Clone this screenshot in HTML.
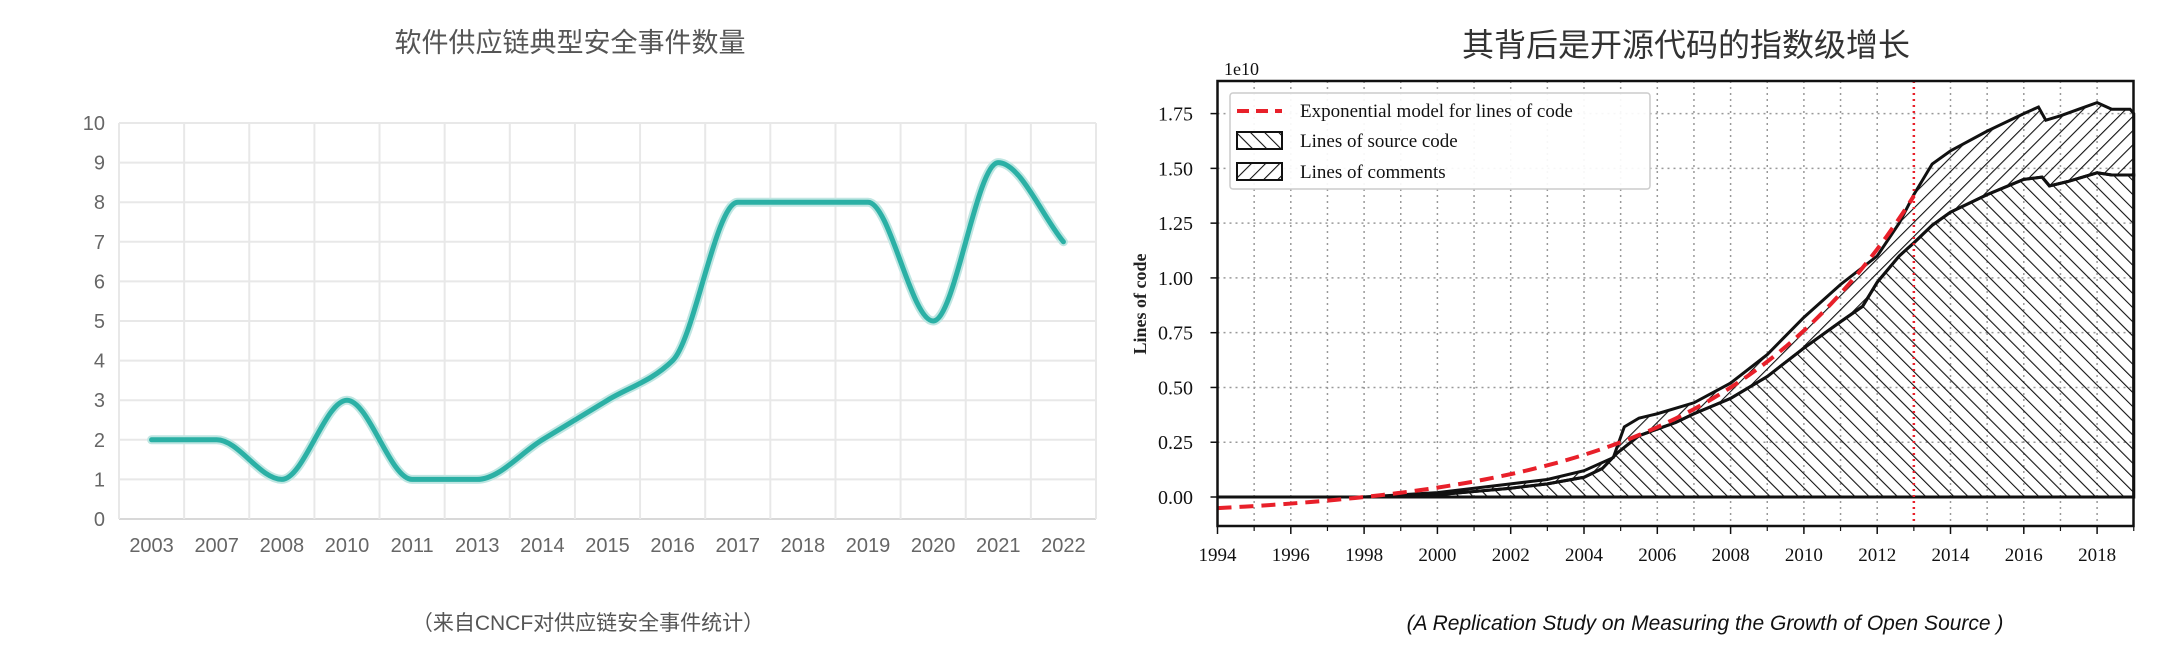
<!DOCTYPE html>
<html><head><meta charset="utf-8">
<style>
html,body{margin:0;padding:0;background:#fff;}
svg{display:block;}
</style></head>
<body>
<svg id="s" width="2184" height="672" xmlns="http://www.w3.org/2000/svg">
<defs>
<pattern id="hb" width="10" height="10" patternUnits="userSpaceOnUse" patternTransform="rotate(-45)">
<line x1="0" y1="0" x2="0" y2="10" stroke="#111" stroke-width="2.2"/></pattern>
<pattern id="hf" width="10" height="10" patternUnits="userSpaceOnUse" patternTransform="rotate(45)">
<line x1="0" y1="0" x2="0" y2="10" stroke="#111" stroke-width="2.2"/></pattern>
</defs>
<text x="570" y="52" text-anchor="middle" font-family="Liberation Sans, Noto Sans CJK SC, sans-serif" font-size="27" fill="#555">软件供应链典型安全事件数量</text>
<text x="588" y="630" text-anchor="middle" font-family="Liberation Sans, Noto Sans CJK SC, sans-serif" font-size="21" fill="#555">（来自CNCF对供应链安全事件统计）</text>
<text x="1686" y="56" text-anchor="middle" font-family="Liberation Sans, Noto Sans CJK SC, sans-serif" font-size="32" fill="#333">其背后是开源代码的指数级增长</text>
<text x="1705" y="630" text-anchor="middle" font-family="Liberation Sans, sans-serif" font-style="italic" font-size="21" fill="#111">(A Replication Study on Measuring the Growth of Open Source )</text>
<g id="L"></g><g id="R"></g>
</svg>
<script>
var NS="http://www.w3.org/2000/svg";
function el(p,t,a,txt){var e=document.createElementNS(NS,t);for(var k in a)e.setAttribute(k,a[k]);if(txt!=null)e.textContent=txt;p.appendChild(e);return e;}
// Left chart
var L=document.getElementById('L');
var x0=119,x1=1096,yT=123,yB=519,n=15,bw=(x1-x0)/n;
function ly(v){return yB-(yB-yT)*v/10;}
for(var i=0;i<=10;i++){var y=ly(i);el(L,'line',{x1:x0,x2:x1,y1:y,y2:y,stroke:i==0?'#d8d8d8':'#e8e8e8','stroke-width':2});
el(L,'text',{x:105,y:y+7,'text-anchor':'end','font-family':'Liberation Sans, sans-serif','font-size':20,fill:'#666'},String(i));}
for(var i=0;i<=n;i++){var x=x0+i*bw;el(L,'line',{x1:x,x2:x,y1:yT,y2:yB,stroke:'#e8e8e8','stroke-width':2});}
var yrs=[2003,2007,2008,2010,2011,2013,2014,2015,2016,2017,2018,2019,2020,2021,2022];
var vals=[2,2,1,3,1,1,2,3,4,8,8,8,5,9,7];
var pts=[];
for(var i=0;i<n;i++){var x=x0+bw*(i+.5);pts.push([x,ly(vals[i])]);
el(L,'text',{x:x,y:552,'text-anchor':'middle','font-family':'Liberation Sans, sans-serif','font-size':20,fill:'#666'},String(yrs[i]));}
// monotone cubic
var m=[];for(var i=0;i<n;i++){
 if(i==0||i==n-1){m.push(i==0?(pts[1][1]-pts[0][1])/bw:(pts[n-1][1]-pts[n-2][1])/bw);continue;}
 var d0=(pts[i][1]-pts[i-1][1])/bw,d1=(pts[i+1][1]-pts[i][1])/bw;
 if(d0*d1<=0)m.push(0);else m.push(2/(1/d0+1/d1));}
var d='M'+pts[0][0]+','+pts[0][1];
for(var i=0;i<n-1;i++){var h=bw/3;
d+=' C'+(pts[i][0]+h)+','+(pts[i][1]+m[i]*h)+' '+(pts[i+1][0]-h)+','+(pts[i+1][1]-m[i+1]*h)+' '+pts[i+1][0]+','+pts[i+1][1];}
el(L,'path',{d:d,fill:'none',stroke:'#bfe6e2','stroke-width':9,'stroke-linecap':'round'});
el(L,'path',{d:d,fill:'none',stroke:'#2bb0a5','stroke-width':5,'stroke-linecap':'round'});
// Right chart
var R=document.getElementById('R');
var X0=1217.5,XR=2133.5,YT=81,YB=526,py=36.65;
function rx(t){return X0+(t-1994)*py;}
function ry(v){return 497-v*(497-113.6)/1.75;}
for(var yv=1994;yv<=2019;yv++){el(R,'line',{x1:rx(yv),x2:rx(yv),y1:YT,y2:YB,stroke:'#999','stroke-width':1.5,'stroke-dasharray':'2,4'});}
for(var k=0;k<=7;k++){var y=ry(k*0.25);el(R,'line',{x1:X0,x2:XR,y1:y,y2:y,stroke:'#999','stroke-width':1.5,'stroke-dasharray':'2,4'});
el(R,'line',{x1:X0-7,x2:X0,y1:y,y2:y,stroke:'#111','stroke-width':1.5});
el(R,'text',{x:1193,y:y+7,'text-anchor':'end','font-family':'Liberation Serif, serif','font-size':20,fill:'#111'},(k*0.25).toFixed(2));}
var S=[[1994,0],[1998,0],[2000,0.01],[2002,0.04],[2003,0.06],[2004,0.09],[2004.5,0.13],[2004.9,0.2],[2005.5,0.28],[2006,0.31],[2006.5,0.34],[2007,0.38],[2008,0.45],[2009,0.55],[2010,0.68],[2011,0.8],[2011.6,0.87],[2012,0.98],[2012.6,1.1],[2013,1.16],[2013.5,1.24],[2014,1.3],[2015,1.38],[2016,1.45],[2016.5,1.46],[2016.7,1.42],[2017.2,1.44],[2018,1.48],[2018.4,1.47],[2019,1.47]];
var T=[[1994,0],[1998,0],[2000,0.02],[2002,0.06],[2003,0.08],[2004,0.12],[2004.8,0.18],[2005.1,0.32],[2005.5,0.36],[2006,0.38],[2007,0.43],[2008,0.52],[2009,0.65],[2010,0.82],[2011,0.97],[2012,1.1],[2012.6,1.25],[2013,1.38],[2013.5,1.52],[2014,1.58],[2015,1.67],[2016,1.75],[2016.4,1.78],[2016.6,1.72],[2017,1.74],[2017.5,1.77],[2018,1.80],[2018.4,1.77],[2018.9,1.77],[2019,1.75]];
function poly(a){return a.map(function(p){return rx(p[0])+','+ry(p[1]);}).join(' ');}
var topT=poly(T),topS=poly(S);
var revS=S.slice().reverse();
el(R,'polygon',{points:topT+' '+poly(revS),fill:'url(#hf)',stroke:'#111','stroke-width':3});
el(R,'polygon',{points:topS+' '+rx(2019)+','+ry(0)+' '+rx(1994)+','+ry(0),fill:'url(#hb)',stroke:'#111','stroke-width':3});
el(R,'line',{x1:X0,x2:XR,y1:ry(0),y2:ry(0),stroke:'#111','stroke-width':2.5,'stroke-dasharray':'2,2'});
var ed='';for(var t=1994;t<=2013.01;t+=0.25){var v=0.04818*Math.exp(0.18*(t-1994))-0.099;ed+=(ed?' L':'M')+rx(t)+','+ry(v);}
el(R,'path',{d:ed,fill:'none',stroke:'#e8202a','stroke-width':4,'stroke-dasharray':'14,8'});
el(R,'line',{x1:rx(2013),x2:rx(2013),y1:YT,y2:YB,stroke:'#e8202a','stroke-width':2.5,'stroke-dasharray':'2,4'});
el(R,'rect',{x:X0,y:YT,width:XR-X0,height:YB-YT,fill:'none',stroke:'#111','stroke-width':2.5});
for(var yv=1994;yv<=2018;yv+=2){el(R,'line',{x1:rx(yv),x2:rx(yv),y1:YB,y2:YB+8,stroke:'#111','stroke-width':1.5});
el(R,'text',{x:rx(yv),y:561,'text-anchor':'middle','font-family':'Liberation Serif, serif','font-size':19,fill:'#111'},String(yv));}
for(var yv=1995;yv<=2019;yv+=2){el(R,'line',{x1:rx(yv),x2:rx(yv),y1:YB,y2:YB+5,stroke:'#111','stroke-width':1.2});}
el(R,'text',{x:1224,y:75,'font-family':'Liberation Serif, serif','font-size':18,fill:'#111'},'1e10');
el(R,'text',{x:0,y:0,transform:'translate(1146,304) rotate(-90)','text-anchor':'middle','font-family':'Liberation Serif, serif','font-size':18,'font-weight':'bold',fill:'#222'},'Lines of code');
// legend
el(R,'rect',{x:1230,y:93,width:420,height:96,fill:'#fff','fill-opacity':0.92,stroke:'#ccc','stroke-width':1.5,rx:3});
el(R,'line',{x1:1237,x2:1282,y1:111,y2:111,stroke:'#e8202a','stroke-width':4,'stroke-dasharray':'12,7'});
el(R,'rect',{x:1237,y:132,width:45,height:17,fill:'url(#hb)',stroke:'#111','stroke-width':2});
el(R,'rect',{x:1237,y:163,width:45,height:17,fill:'url(#hf)',stroke:'#111','stroke-width':2});
var lg=[['Exponential model for lines of code',117],['Lines of source code',147],['Lines of comments',178]];
lg.forEach(function(a){el(R,'text',{x:1300,y:a[1],'font-family':'Liberation Serif, serif','font-size':19,fill:'#111'},a[0]);});
</script>
</body></html>
